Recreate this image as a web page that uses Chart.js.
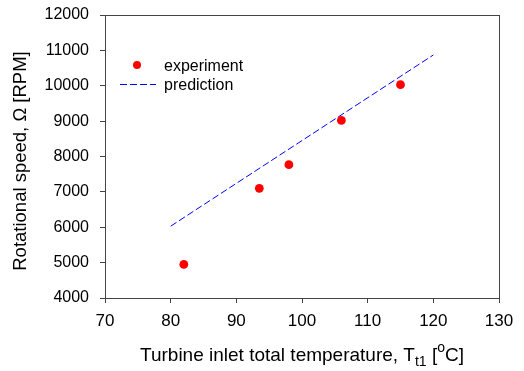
<!DOCTYPE html>
<html>
<head>
<meta charset="utf-8">
<script src="https://cdn.jsdelivr.net/npm/chart.js@4/dist/chart.umd.min.js"></script>
<style>
html,body{margin:0;padding:0;background:#fff;}
#wrap{width:524px;height:371px;}
</style>
</head>
<body>
<div id="wrap"><canvas id="c" width="524" height="371"></canvas></div>
<script>
const expTemp = [82, 93.5, 98, 106, 115];
const expSpeed = [4950, 7100, 7770, 9020, 10030];
const predTemp = [80, 120];
const predSpeed = [6030, 10870];
const xTicks = [70, 80, 90, 100, 110, 120, 130];
const yTicks = [4000, 5000, 6000, 7000, 8000, 9000, 10000, 11000, 12000];
const seriesNames = ['experiment', 'prediction'];
const yTitle = 'Rotational speed, Ω [RPM]';

const FONT = '"Liberation Sans", Arial, sans-serif';
const AXIS = '#444';

const boxPlugin = {
  id: 'box',
  afterDraw(chart) {
    const {ctx, chartArea: a} = chart;
    ctx.save();
    ctx.strokeStyle = AXIS;
    ctx.lineWidth = 1;
    ctx.strokeRect(Math.round(a.left) + 0.5, Math.round(a.top) + 0.5, Math.round(a.right - a.left), Math.round(a.bottom - a.top));
    // legend
    ctx.fillStyle = '#ff0000';
    ctx.beginPath();
    ctx.arc(137, 65, 4, 0, Math.PI * 2);
    ctx.fill();
    ctx.strokeStyle = '#0000ff';
    ctx.setLineDash([7, 3]);
    ctx.beginPath();
    ctx.moveTo(120, 84.5);
    ctx.lineTo(156, 84.5);
    ctx.stroke();
    ctx.setLineDash([]);
    ctx.fillStyle = '#000';
    ctx.font = '16px ' + FONT;
    ctx.textBaseline = 'middle';
    ctx.textAlign = 'left';
    ctx.fillText(seriesNames[0], 164, 67);
    ctx.fillText(seriesNames[1], 164, 86);
    // y title
    ctx.save();
    ctx.translate(21, 161);
    ctx.rotate(-Math.PI / 2);
    ctx.textAlign = 'center';
    ctx.textBaseline = 'middle';
    ctx.font = '18.5px ' + FONT;
    ctx.fillText(yTitle, 0, 0);
    ctx.restore();
    // x title with sub/superscript
    const y0 = 361;
    const parts = [
      {t: 'Turbine inlet total temperature, T', s: 19, dy: 0},
      {t: 't1', s: 14, dy: 5},
      {t: ' [', s: 19, dy: 0},
      {t: 'o', s: 14, dy: -9},
      {t: 'C]', s: 19, dy: 0}
    ];
    let w = 0;
    parts.forEach(p => { ctx.font = p.s + 'px ' + FONT; p.w = ctx.measureText(p.t).width; w += p.w; });
    let x = (a.left + a.right) / 2 - w / 2;
    ctx.textAlign = 'left';
    ctx.textBaseline = 'alphabetic';
    parts.forEach(p => { ctx.font = p.s + 'px ' + FONT; ctx.fillText(p.t, x, y0 + p.dy); x += p.w; });
    ctx.restore();
  }
};

new Chart(document.getElementById('c'), {
  type: 'scatter',
  data: {
    datasets: [
      {
        label: seriesNames[0],
        data: expTemp.map((t, i) => ({x: t, y: expSpeed[i]})),
        backgroundColor: '#ff0000',
        borderColor: '#ff0000',
        pointRadius: 4.4,
        pointBorderWidth: 0
      },
      {
        label: seriesNames[1],
        data: predTemp.map((t, i) => ({x: t, y: predSpeed[i]})),
        showLine: true,
        borderColor: '#0000ff',
        borderWidth: 1,
        borderDash: [7, 3],
        pointRadius: 0,
        fill: false
      }
    ]
  },
  options: {
    responsive: false,
    animation: false,
    layout: {padding: {top: 15, right: 25, left: 0, bottom: 0}},
    plugins: {legend: {display: false}, tooltip: {enabled: false}},
    scales: {
      x: {
        type: 'linear', min: 70, max: 130,
        afterBuildTicks: s => { s.ticks = xTicks.map(v => ({value: v})); },
        afterFit: s => { s.height = 73; s.paddingLeft = 0; s.paddingRight = 0; },
        grid: {display: true, drawOnChartArea: false, drawTicks: true, tickLength: 5, color: AXIS},
        border: {display: false},
        ticks: {color: '#000', font: {family: FONT, size: 17}, padding: 8, maxRotation: 0, callback: v => String(v)}
      },
      y: {
        type: 'linear', min: 4000, max: 12000,
        afterBuildTicks: s => { s.ticks = yTicks.map(v => ({value: v})); },
        afterFit: s => { s.width = 105; s.paddingTop = 0; s.paddingBottom = 0; },
        grid: {display: true, drawOnChartArea: false, drawTicks: true, tickLength: 5, color: AXIS},
        border: {display: false},
        ticks: {color: '#000', font: {family: FONT, size: 16}, padding: 11, callback: v => String(v)}
      }
    }
  },
  plugins: [boxPlugin]
});
</script>
</body>
</html>
